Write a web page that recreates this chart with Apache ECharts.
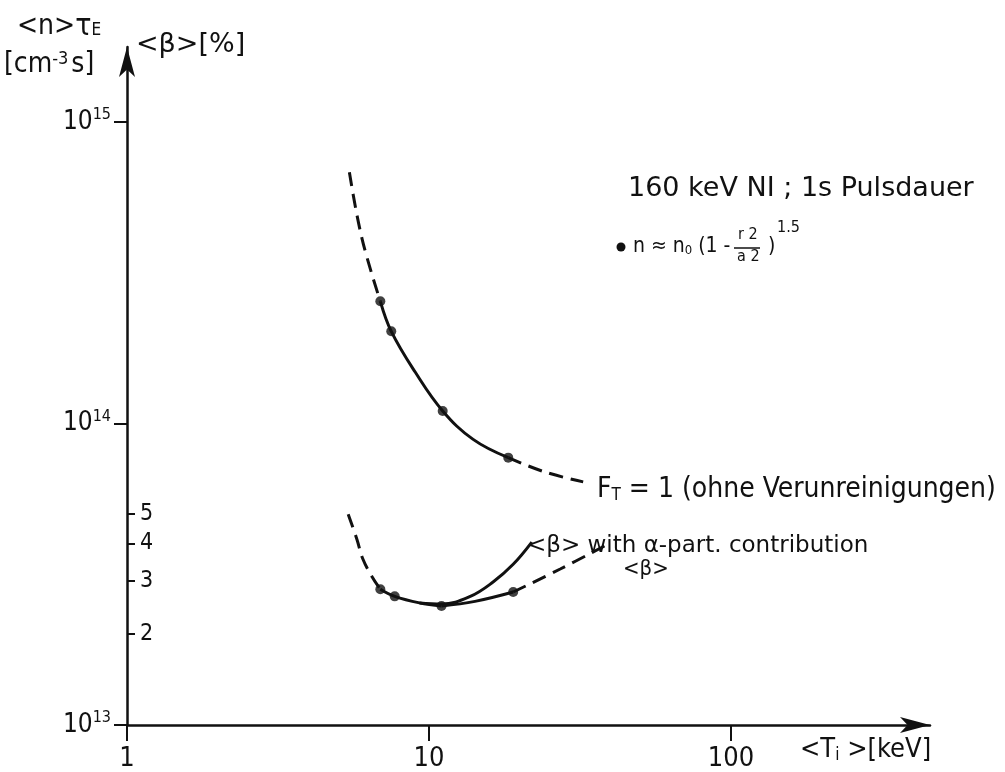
<!DOCTYPE html>
<html lang="en">
<head>
<meta charset="UTF-8">
<title>n tau_E vs T_i</title>
<script src="https://cdn.jsdelivr.net/npm/echarts@6/dist/echarts.min.js"></script>
<style>
    * { margin: 0; padding: 0 }
    html, body { width: 100%; height: 100%; background: #fff; }
    #main { width: 1005px; height: 772px; }
</style>
</head>
<body>
<div id="main"></div>
<script type="text/javascript">
    // <n>tau_E curve (F_T = 1), T_i in keV, n tau_E in cm^-3 s
    var ntauDashLeftT = [5.45, 6.0, 6.9];
    var ntauDashLeftV = [6.8e14, 4.1e14, 2.54e14];
    var ntauSolidT = [6.9, 7.5, 9.0, 11.1, 14.0, 18.3];
    var ntauSolidV = [2.54e14, 2.02e14, 1.48e14, 1.10e14, 8.85e13, 7.7e13];
    var ntauDashRightT = [18.3, 24.2, 32.4];
    var ntauDashRightV = [7.7e13, 6.9e13, 6.4e13];
    var ntauDotsT = [6.9, 7.5, 11.1, 18.3];
    var ntauDotsV = [2.54e14, 2.02e14, 1.10e14, 7.7e13];

    // <beta> curves in %
    var betaDashLeftT = [5.4, 5.77, 6.04, 6.47, 6.9];
    var betaDashLeftV = [5.0, 4.13, 3.55, 3.11, 2.82];
    var betaSolidT = [6.9, 7.7, 9.3, 11.0];
    var betaSolidV = [2.82, 2.67, 2.54, 2.48];
    var alphaT = [9.3, 11.0, 13.7, 16.3, 19.0, 21.9];
    var alphaV = [2.54, 2.52, 2.67, 2.98, 3.41, 4.04];
    var betaLowT = [11.0, 14.2, 19.0];
    var betaLowV = [2.48, 2.57, 2.76];
    var betaDashRightT = [19.0, 27.2, 39.2];
    var betaDashRightV = [2.76, 3.29, 3.98];
    var betaDotsT = [6.9, 7.7, 11.0, 19.0];
    var betaDotsV = [2.82, 2.67, 2.48, 2.76];

    // axis ticks
    var xTicks = [1, 10, 100];
    var yTicks = [1e13, 1e14, 1e15];
    var betaTicks = [2, 3, 4, 5];

    var NARROW = "'DejaVu Sans Condensed', 'DejaVu Sans', sans-serif";
    var WIDE = "'DejaVu Sans', sans-serif";
    var INK = '#111';

    function pairs(xs, ys) {
        return xs.map(function (x, i) { return [x, ys[i]]; });
    }
    function curve(xs, ys, axis, dashed) {
        return {
            type: 'line', yAxisIndex: axis, data: pairs(xs, ys),
            smooth: 0.4, symbol: 'none', silent: true,
            lineStyle: { color: INK, width: 3, type: dashed ? [14, 8] : 'solid' }
        };
    }
    function dots(xs, ys, axis) {
        return {
            type: 'scatter', yAxisIndex: axis, data: pairs(xs, ys),
            symbolSize: 10, itemStyle: { color: INK }, silent: true
        };
    }

    var chart = echarts.init(document.getElementById('main'));
    chart.setOption({
        animation: false,
        backgroundColor: '#fff',
        grid: { left: 127, right: 75, top: 47, bottom: 46 },
        xAxis: {
            type: 'log', min: 1, max: 456,
            axisLine: { lineStyle: { color: INK, width: 2.5 }, symbol: ['none', 'arrow'], symbolSize: [12, 30] },
            axisTick: { length: 16, lineStyle: { color: INK, width: 2 }, customValues: xTicks },
            axisLabel: { customValues: xTicks, margin: 20, fontSize: 27, color: INK, fontFamily: NARROW },
            splitLine: { show: false }
        },
        yAxis: [{
            type: 'log', min: 1e13, max: 1.77e15, position: 'left',
            axisLine: { show: true, lineStyle: { color: INK, width: 2.5 }, symbol: ['none', 'arrow'], symbolSize: [12, 30] },
            axisTick: { show: true, length: 13, lineStyle: { color: INK, width: 2 }, customValues: yTicks },
            axisLabel: {
                customValues: yTicks, margin: 16, color: INK, fontFamily: NARROW,
                formatter: function (v) {
                    return '{b|10}{s|' + Math.round(Math.log10(v)) + '}';
                },
                rich: {
                    b: { fontSize: 26, fontFamily: NARROW, color: INK },
                    s: { fontSize: 16, fontFamily: NARROW, color: INK, padding: [0, 0, 14, 0] }
                }
            },
            splitLine: { show: false }
        }, {
            type: 'log', min: 1, max: 177, position: 'left',
            axisLine: { show: false },
            axisTick: { show: true, inside: true, length: 8, lineStyle: { color: INK, width: 2 }, customValues: betaTicks },
            axisLabel: { inside: true, customValues: betaTicks, margin: 13, fontSize: 23, color: INK, fontFamily: NARROW },
            splitLine: { show: false }
        }],
        graphic: [
            { type: 'text', left: 17, top: 12, style: { text: '<n>{t|τ}{s|E}', fill: INK, font: '28px ' + NARROW,
                rich: { t: { fontSize: 30, fontFamily: NARROW }, s: { fontSize: 17, fontFamily: NARROW, padding: [8, 0, 0, 0] } } } },
            { type: 'text', left: 4, top: 50, style: { text: '[cm{s|-3}s]', fill: INK, font: '28px ' + NARROW,
                rich: { s: { fontSize: 18, fontFamily: NARROW, padding: [0, 3, 12, 0] } } } },
            { type: 'text', left: 136, top: 31, style: { text: '<β>[%]', fill: INK, font: '27px ' + WIDE } },
            { type: 'text', left: 628, top: 175, style: { text: '160 keV NI ; 1s Pulsdauer', fill: INK, font: '27px ' + WIDE } },
            { type: 'circle', shape: { cx: 621, cy: 247, r: 4.5 }, style: { fill: INK } },
            { type: 'text', left: 633, top: 236, style: { text: 'n ≈ n{s|0} (1 -', fill: INK, font: '21px ' + NARROW,
                rich: { s: { fontSize: 13, fontFamily: NARROW, padding: [8, 0, 0, 0] } } } },
            { type: 'text', left: 738, top: 227, style: { text: 'r 2', fill: INK, font: '16px ' + NARROW } },
            { type: 'line', shape: { x1: 734, y1: 248, x2: 760, y2: 248 }, style: { stroke: INK, lineWidth: 1.5 } },
            { type: 'text', left: 737, top: 249, style: { text: 'a 2', fill: INK, font: '16px ' + NARROW } },
            { type: 'text', left: 768, top: 236, style: { text: ')', fill: INK, font: '21px ' + NARROW } },
            { type: 'text', left: 777, top: 220, style: { text: '1.5', fill: INK, font: '16px ' + NARROW } },
            { type: 'text', left: 597, top: 476, style: { text: 'F{s|T} = 1 (ohne Verunreinigungen)', fill: INK, font: '28px ' + NARROW,
                rich: { s: { fontSize: 17, fontFamily: NARROW, padding: [12, 0, 0, 0] } } } },
            { type: 'text', left: 527, top: 535, style: { text: '<β> with α-part. contribution', fill: INK, font: '23px ' + WIDE } },
            { type: 'text', left: 623, top: 558, style: { text: '<β>', fill: INK, font: '22px ' + NARROW } },
            { type: 'text', left: 800, top: 736, style: { text: '<T{s|i} >[keV]', fill: INK, font: '27px ' + NARROW,
                rich: { s: { fontSize: 17, fontFamily: NARROW, padding: [12, 0, 0, 0] } } } }
        ],
        series: [
            curve(ntauDashLeftT, ntauDashLeftV, 0, true),
            curve(ntauSolidT, ntauSolidV, 0, false),
            curve(ntauDashRightT, ntauDashRightV, 0, true),
            dots(ntauDotsT, ntauDotsV, 0),
            curve(betaDashLeftT, betaDashLeftV, 1, true),
            curve(betaSolidT, betaSolidV, 1, false),
            curve(alphaT, alphaV, 1, false),
            curve(betaLowT, betaLowV, 1, false),
            curve(betaDashRightT, betaDashRightV, 1, true),
            dots(betaDotsT, betaDotsV, 1)
        ]
    });
</script>
</body>
</html>
